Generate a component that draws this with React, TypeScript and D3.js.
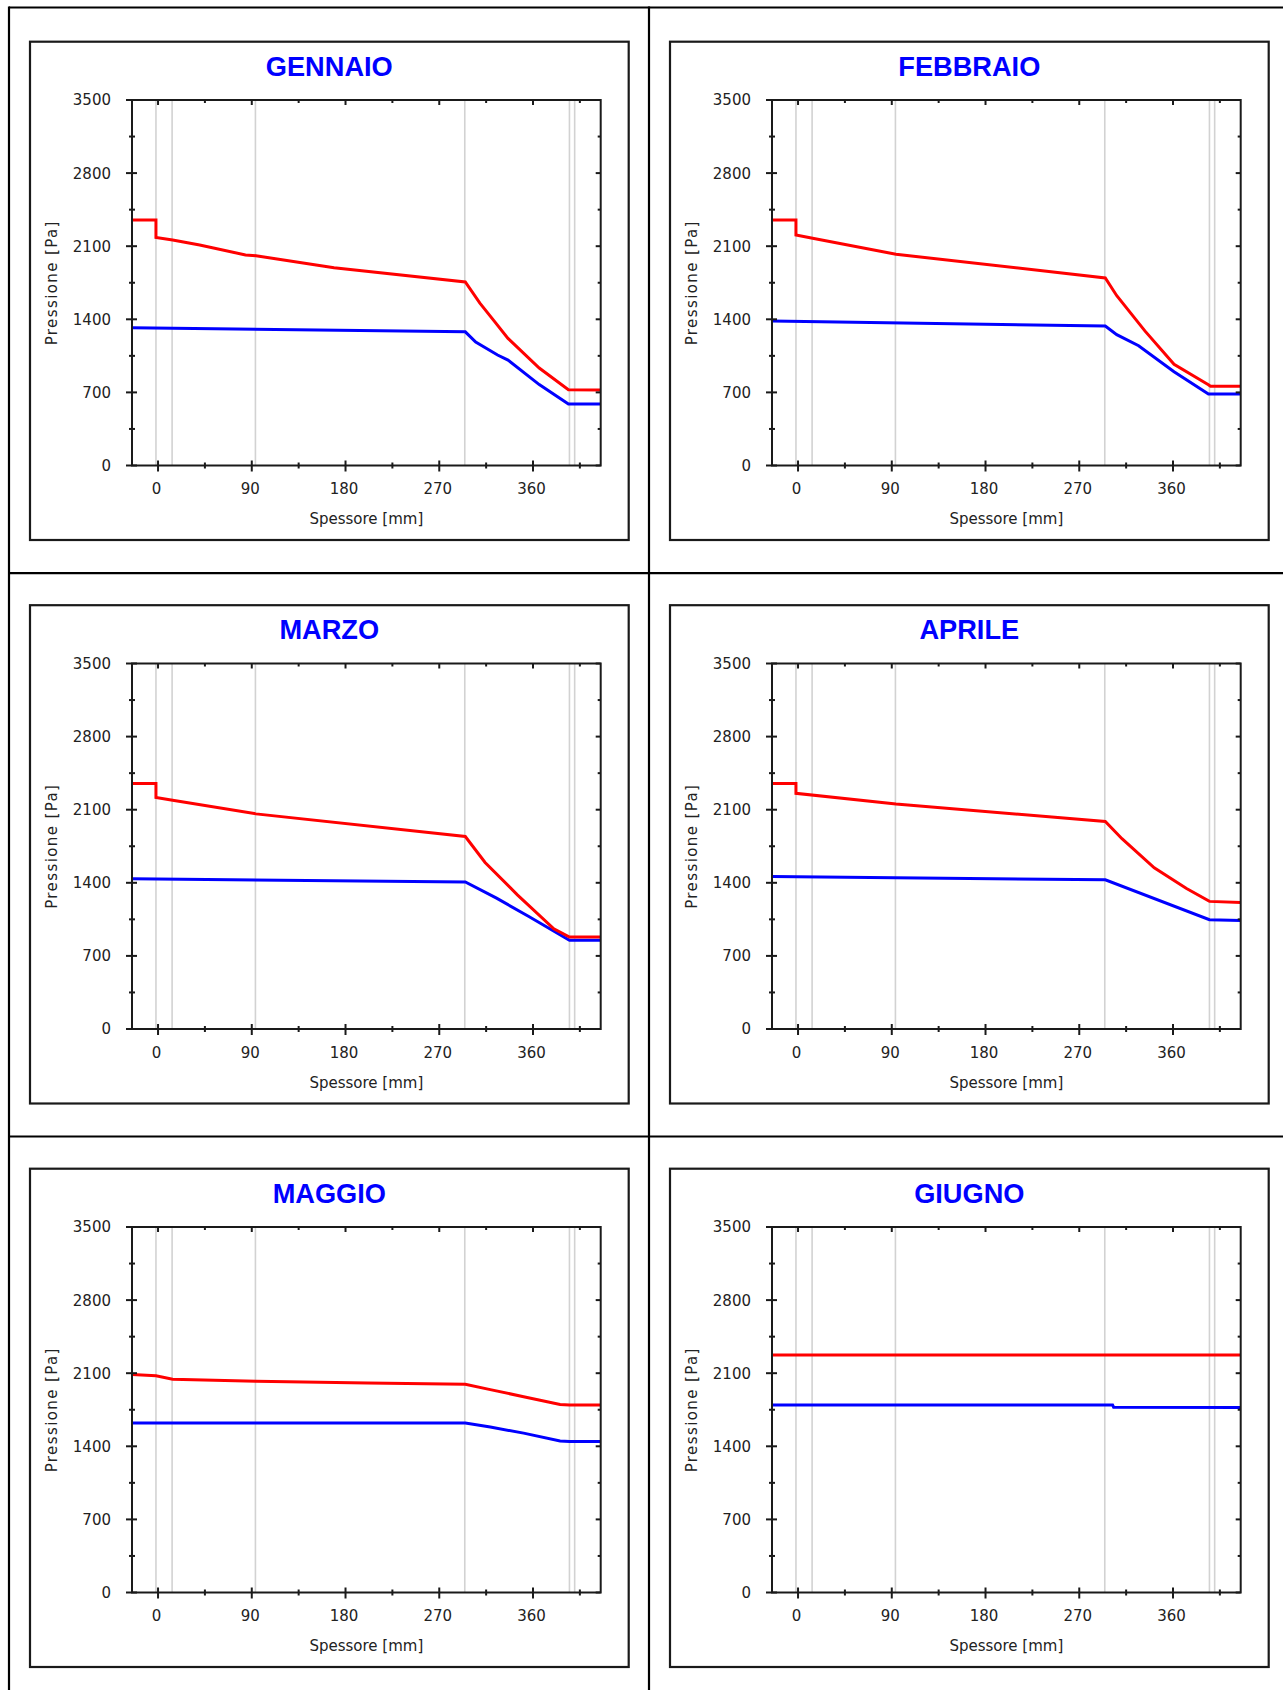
import React from "react";
import * as d3 from "d3";

// ---------- data ----------
const monthNames = ["GENNAIO", "FEBBRAIO", "MARZO", "APRILE", "MAGGIO", "GIUGNO"];

// [spessore mm, pressione Pa]
const gennaioSat: [number, number][] = [[-25, 2350], [-2, 2350], [-2, 2183], [14, 2160], [40, 2111], [84, 2016], [94, 2009], [169, 1894], [295, 1758], [309, 1555], [323, 1380], [336, 1217], [366, 933], [394, 725], [425, 722]];
const gennaioPar: [number, number][] = [[-25, 1320], [295, 1280], [305, 1182], [326, 1058], [336, 1010], [366, 775], [394, 588], [425, 588]];

const febbraioSat: [number, number][] = [[-25, 2350], [-2, 2350], [-2, 2208], [14, 2176], [94, 2023], [295, 1796], [306, 1626], [333, 1289], [361, 969], [394, 774], [396, 760], [425, 760]];
const febbraioPar: [number, number][] = [[-25, 1384], [295, 1336], [306, 1253], [327, 1147], [361, 898], [394, 685], [425, 685]];

const marzoSat: [number, number][] = [[-25, 2351], [-2, 2351], [-2, 2216], [14, 2190], [94, 2060], [295, 1843], [314, 1595], [345, 1284], [380, 960], [395, 880], [425, 880]];
const marzoPar: [number, number][] = [[-25, 1439], [295, 1408], [325, 1253], [356, 1077], [395, 849], [425, 849]];

const aprileSat: [number, number][] = [[-25, 2351], [-2, 2351], [-2, 2257], [94, 2154], [295, 1988], [311, 1822], [342, 1543], [373, 1346], [395, 1222], [425, 1211]];
const aprilePar: [number, number][] = [[-25, 1460], [295, 1429], [395, 1046], [425, 1040]];

const maggioSat: [number, number][] = [[-25, 2087], [-2, 2075], [14, 2042], [94, 2022], [201, 2005], [295, 1995], [319, 1943], [351, 1875], [386, 1800], [395, 1796], [425, 1796]];
const maggioPar: [number, number][] = [[-25, 1622], [295, 1622], [319, 1584], [351, 1526], [386, 1451], [395, 1447], [425, 1447]];

const giugnoSat: [number, number][] = [[-25, 2275], [425, 2275]];
const giugnoPar: [number, number][] = [[-25, 1796], [302, 1795], [303, 1775], [425, 1772]];

const saturationSeries = [gennaioSat, febbraioSat, marzoSat, aprileSat, maggioSat, giugnoSat];
const partialSeries = [gennaioPar, febbraioPar, marzoPar, aprilePar, maggioPar, giugnoPar];

// layer interfaces (mm)
const layerBounds = [-2, 13.5, 93.5, 294.5, 395, 400];

const xMajorTicks = [0, 90, 180, 270, 360];
const xMinorTicks = [45, 135, 225, 315, 405];
const yMajorTicks = [0, 700, 1400, 2100, 2800, 3500];
const yMinorTicks = [350, 1050, 1750, 2450, 3150];
const xDomain = [-25, 425];
const yDomain = [0, 3500];

const xTitle = "Spessore [mm]";
const yTitle = "Pressione [Pa]";

// ---------- layout ----------
const W = 1283;
const H = 1690;
const colOffset = 640;
const rowOffset = 563.5;
const smallFont = "'DejaVu Sans', Verdana, sans-serif";

function Panel({ idx }: { idx: number }) {
  const col = idx % 2;
  const row = Math.floor(idx / 2);
  const ox = col * colOffset;
  const oy = row * rowOffset;

  const left = 132 + ox;
  const right = 600.7 + ox;
  const top = 100 + oy;
  const bottom = 465.5 + oy;

  const x = d3.scaleLinear().domain(xDomain).range([left, right]);
  const y = d3.scaleLinear().domain(yDomain).range([bottom, top]);
  const line = d3
    .line<[number, number]>()
    .x((d) => x(d[0]))
    .y((d) => y(d[1]));

  const axisColor = "#1a1a1a";
  const tickColor = "#1a1a1a";

  return (
    <g>
      {/* panel frame */}
      <rect x={30 + ox} y={41.7 + oy} width={598.7} height={498.3} fill="#fff" stroke="#1a1a1a" strokeWidth={2.2} />
      {/* title */}
      <text
        x={329.3 + ox}
        y={75.5 + oy}
        textAnchor="middle"
        fontFamily="'Liberation Sans', Arial, sans-serif"
        fontWeight="bold"
        fontSize={27.2}
        fill="#0000ff"
      >
        {monthNames[idx]}
      </text>

      {/* layer lines */}
      {layerBounds.map((b, i) => (
        <line key={"lb" + i} x1={x(b)} x2={x(b)} y1={top} y2={bottom} stroke="#d2d2d2" strokeWidth={1.6} />
      ))}

      {/* series */}
      <path d={line(partialSeries[idx]) || ""} fill="none" stroke="#0000ff" strokeWidth={3} strokeLinejoin="miter" />
      <path d={line(saturationSeries[idx]) || ""} fill="none" stroke="#ff0000" strokeWidth={3} strokeLinejoin="miter" />

      {/* plot frame */}
      <rect x={left} y={top} width={right - left} height={bottom - top} fill="none" stroke={axisColor} strokeWidth={2} />

      {/* y ticks */}
      {yMajorTicks.map((t) => (
        <g key={"ym" + t}>
          <line x1={left - 6} x2={left + 5} y1={y(t)} y2={y(t)} stroke={tickColor} strokeWidth={2} />
          <line x1={right - 5} x2={right} y1={y(t)} y2={y(t)} stroke={tickColor} strokeWidth={2} />
          <text x={111 + ox} y={y(t)} dy="0.36em" textAnchor="end" fontFamily={smallFont} fontSize={15} fill="#222">
            {t}
          </text>
        </g>
      ))}
      {yMinorTicks.map((t) => (
        <g key={"yn" + t}>
          <line x1={left - 3} x2={left + 3} y1={y(t)} y2={y(t)} stroke={tickColor} strokeWidth={2} />
          <line x1={right - 3} x2={right} y1={y(t)} y2={y(t)} stroke={tickColor} strokeWidth={2} />
        </g>
      ))}

      {/* x ticks */}
      {xMajorTicks.map((t) => (
        <g key={"xm" + t}>
          <line x1={x(t)} x2={x(t)} y1={bottom - 5} y2={bottom + 6} stroke={tickColor} strokeWidth={2} />
          <line x1={x(t)} x2={x(t)} y1={top} y2={top + 5} stroke={tickColor} strokeWidth={2} />
          <text x={x(t) - 1.5} y={494.3 + oy} textAnchor="middle" fontFamily={smallFont} fontSize={15} fill="#222">
            {t}
          </text>
        </g>
      ))}
      {xMinorTicks.map((t) => (
        <g key={"xn" + t}>
          <line x1={x(t)} x2={x(t)} y1={bottom - 3} y2={bottom + 3} stroke={tickColor} strokeWidth={2} />
          <line x1={x(t)} x2={x(t)} y1={top} y2={top + 3} stroke={tickColor} strokeWidth={2} />
        </g>
      ))}

      {/* axis titles */}
      <text x={(left + right) / 2} y={524 + oy} textAnchor="middle" fontFamily={smallFont} fontSize={15} fill="#222">
        {xTitle}
      </text>
      <text
        transform={`translate(${57 + ox},${(top + bottom) / 2}) rotate(-90)`}
        textAnchor="middle"
        fontFamily={smallFont}
        fontSize={15}
        letterSpacing={1.4}
        fill="#222"
      >
        {yTitle}
      </text>
    </g>
  );
}

export default function App() {
  return (
    <svg
      width={W}
      height={H}
      viewBox={`0 0 ${W} ${H}`}
      style={{ position: "absolute", left: 0, top: 0, background: "#fff" }}
    >
      <rect x={0} y={0} width={W} height={H} fill="#fff" />
      {/* table grid */}
      <line x1={9} x2={W} y1={7.5} y2={7.5} stroke="#000" strokeWidth={2.2} />
      <line x1={9} x2={9} y1={6.5} y2={H} stroke="#000" strokeWidth={2.2} />
      <line x1={649} x2={649} y1={6.5} y2={H} stroke="#000" strokeWidth={2.2} />
      <line x1={9} x2={W} y1={573.2} y2={573.2} stroke="#000" strokeWidth={2.2} />
      <line x1={9} x2={W} y1={1136.5} y2={1136.5} stroke="#000" strokeWidth={2.2} />
      {monthNames.map((_, i) => (
        <Panel key={i} idx={i} />
      ))}
    </svg>
  );
}
